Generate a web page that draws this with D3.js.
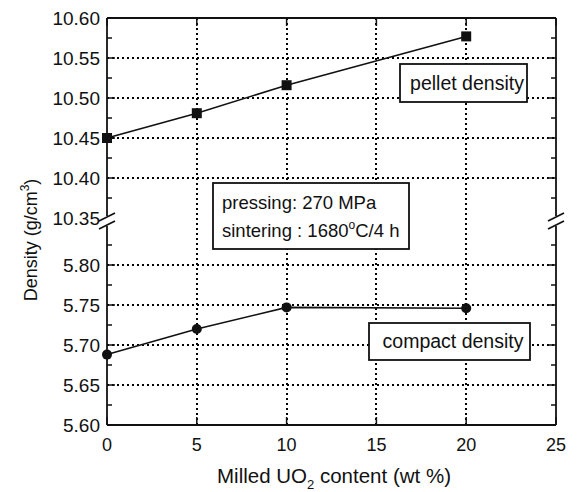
<!DOCTYPE html>
<html lang="en">
<head>
<meta charset="UTF-8">
<script src="https://d3js.org/d3.v7.min.js"></script>
<title>Density vs milled UO2 content</title>
<style>
  body { margin: 0; background: #fff; }
  text { font-family: "Liberation Sans", Arial, sans-serif; fill: #111; }
</style>
</head>
<body>
<script>
// data
const xTicks = [0, 5, 10, 15, 20, 25];
const pelletX = [0, 5, 10, 20];
const pelletDensity = [10.450, 10.481, 10.516, 10.577];
const compactX = [0, 5, 10, 20];
const compactDensity = [5.688, 5.720, 5.747, 5.746];
const upperTicks = [10.35, 10.40, 10.45, 10.50, 10.55, 10.60];
const lowerTicks = [5.60, 5.65, 5.70, 5.75, 5.80];

const W = 579, H = 492;
const svg = d3.select('body').append('svg').attr('width', W).attr('height', H);

const x = d3.scaleLinear().domain([0, 25]).range([107, 556]);
const yTop = d3.scaleLinear().domain([10.35, 10.60]).range([218, 18]);
const yBot = d3.scaleLinear().domain([5.60, 5.80]).range([425, 265]);
const breakY1 = 217, breakY2 = 225;

// dotted grid
const grid = svg.append('g').attr('stroke', '#000').attr('stroke-width', 1.4)
    .attr('stroke-dasharray', '2,3').attr('shape-rendering', 'crispEdges');
[5, 10, 15, 20].forEach(v => {
  grid.append('line').attr('x1', Math.round(x(v))).attr('x2', Math.round(x(v)))
      .attr('y1', yTop(10.60)).attr('y2', yBot(5.60));
});
upperTicks.filter(v => v > 10.35 && v < 10.60).forEach(v => {
  grid.append('line').attr('x1', x(0)).attr('x2', x(25)).attr('y1', yTop(v)).attr('y2', yTop(v));
});
lowerTicks.filter(v => v > 5.60).forEach(v => {
  grid.append('line').attr('x1', x(0)).attr('x2', x(25)).attr('y1', yBot(v)).attr('y2', yBot(v));
});

// frame
const frame = svg.append('g').attr('stroke', '#111').attr('stroke-width', 1.8).attr('fill', 'none');
frame.append('line').attr('x1', x(0)).attr('x2', x(25)).attr('y1', yTop(10.60)).attr('y2', yTop(10.60));
frame.append('line').attr('x1', x(0)).attr('x2', x(25)).attr('y1', yBot(5.60)).attr('y2', yBot(5.60));
[x(0), x(25)].forEach(px => {
  frame.append('line').attr('x1', px).attr('x2', px).attr('y1', yTop(10.60)).attr('y2', breakY1 - 1);
  frame.append('line').attr('x1', px).attr('x2', px).attr('y1', breakY2 + 1).attr('y2', yBot(5.60));
  [breakY1, breakY2].forEach(by => {
    frame.append('line').attr('x1', px - 8).attr('x2', px + 8).attr('y1', by + 4).attr('y2', by - 4);
  });
});

// ticks (inward)
const ticks = svg.append('g').attr('stroke', '#111').attr('stroke-width', 1.5);
function yTick(y, len) {
  ticks.append('line').attr('x1', x(0)).attr('x2', x(0) + len).attr('y1', y).attr('y2', y);
  ticks.append('line').attr('x1', x(25)).attr('x2', x(25) - len).attr('y1', y).attr('y2', y);
}
upperTicks.filter(v => v > 10.35).forEach(v => yTick(yTop(v), 8));
[10.375, 10.425, 10.475, 10.525, 10.575].forEach(v => yTick(yTop(v), 5));
lowerTicks.forEach(v => yTick(yBot(v), 8));
[5.625, 5.675, 5.725, 5.775, 5.825].forEach(v => yTick(yBot(v), 5));
xTicks.forEach(v => {
  ticks.append('line').attr('x1', x(v)).attr('x2', x(v)).attr('y1', yBot(5.60)).attr('y2', yBot(5.60) - 8);
  ticks.append('line').attr('x1', x(v)).attr('x2', x(v)).attr('y1', yTop(10.60)).attr('y2', yTop(10.60) + 8);
});

// tick labels
const lab = svg.append('g').attr('font-size', 19);
upperTicks.forEach(v => {
  lab.append('text').attr('x', x(0) - 7).attr('y', yTop(v) + 7).attr('text-anchor', 'end').text(v.toFixed(2));
});
lowerTicks.forEach(v => {
  lab.append('text').attr('x', x(0) - 7).attr('y', yBot(v) + 7).attr('text-anchor', 'end').text(v.toFixed(2));
});
xTicks.forEach(v => {
  lab.append('text').attr('x', x(v)).attr('y', 451).attr('text-anchor', 'middle').attr('font-size', 18).text(v);
});

// axis titles
const xt = svg.append('text').attr('x', 334).attr('y', 483).attr('text-anchor', 'middle').attr('font-size', 20.5);
xt.append('tspan').text('Milled UO');
xt.append('tspan').attr('font-size', 13).attr('dy', 6).text('2');
xt.append('tspan').attr('dy', -6).text(' content (wt %)');

const yt = svg.append('text').attr('transform', 'translate(37,240) rotate(-90)')
    .attr('text-anchor', 'middle').attr('font-size', 18);
yt.append('tspan').text('Density (g/cm');
yt.append('tspan').attr('font-size', 12).attr('dy', -8).text('3');
yt.append('tspan').attr('dy', 8).text(')');

// series
const pellet = pelletX.map((d, i) => [d, pelletDensity[i]]);
const compact = compactX.map((d, i) => [d, compactDensity[i]]);
svg.append('path').datum(pellet).attr('fill', 'none').attr('stroke', '#111').attr('stroke-width', 1.6)
    .attr('d', d3.line().x(d => x(d[0])).y(d => yTop(d[1])));
svg.append('path').datum(compact).attr('fill', 'none').attr('stroke', '#111').attr('stroke-width', 1.6)
    .attr('d', d3.line().x(d => x(d[0])).y(d => yBot(d[1])));
svg.selectAll('rect.pt').data(pellet).enter().append('rect').attr('class', 'pt')
    .attr('x', d => x(d[0]) - 5).attr('y', d => yTop(d[1]) - 5)
    .attr('width', 10).attr('height', 10).attr('fill', '#111');
svg.selectAll('circle.pt').data(compact).enter().append('circle').attr('class', 'pt')
    .attr('cx', d => x(d[0])).attr('cy', d => yBot(d[1])).attr('r', 5).attr('fill', '#111');

// annotation boxes
function box(x0, y0, w, h) {
  svg.append('rect').attr('x', x0).attr('y', y0).attr('width', w).attr('height', h)
      .attr('fill', '#fff').attr('stroke', '#111').attr('stroke-width', 1.8);
}
box(400, 64, 127, 38);
svg.append('text').attr('x', 467).attr('y', 90).attr('text-anchor', 'middle').attr('font-size', 19.5).text('pellet density');

box(213, 183, 196, 66);
svg.append('text').attr('x', 222).attr('y', 209).attr('font-size', 18.5).text('pressing: 270 MPa');
const st = svg.append('text').attr('x', 222).attr('y', 237).attr('font-size', 18.5);
st.append('tspan').text('sintering : 1680');
st.append('tspan').attr('font-size', 12).attr('dy', -8).text('o');
st.append('tspan').attr('dy', 8).text('C/4 h');

box(369, 323, 161, 37);
svg.append('text').attr('x', 453).attr('y', 348).attr('text-anchor', 'middle').attr('font-size', 19.5).text('compact density');
</script>
</body>
</html>
